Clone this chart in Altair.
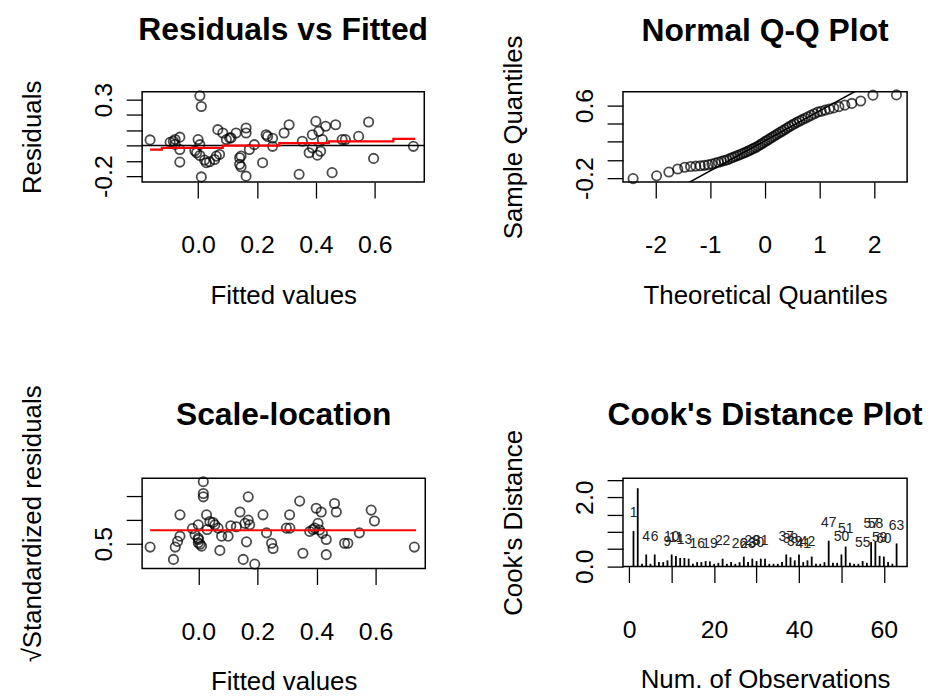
import altair as alt
import pandas as pd

FONT = "Liberation Sans"

# ---------------- Panel 1: Residuals vs Fitted ----------------
rf_fitted = [-0.163, -0.095, -0.084, -0.078, -0.062, -0.062, -0.062, -0.078, 0.006, 0.011,
             0.000, 0.006, -0.011, -0.005, 0.006, 0.022, 0.028, 0.039, 0.011, 0.056,
             0.062, 0.073, 0.067, 0.084, 0.096, 0.107, 0.129, 0.141, 0.146, 0.141,
             0.146, 0.163, 0.163, 0.163, 0.174, 0.191, 0.219, 0.231, 0.236, 0.253,
             0.253, 0.292, 0.309, 0.343, 0.354, 0.377, 0.388, 0.400, 0.410, 0.388,
             0.416, 0.422, 0.433, 0.455, 0.467, 0.489, 0.500, 0.545, 0.579, 0.596,
             0.731, 0.405, 0.112]
rf_resid = [0.037, 0.021, 0.028, 0.040, 0.055, -0.026, -0.108, 0.008, 0.325, 0.255,
            0.039, 0.006, -0.034, -0.047, -0.065, -0.095, -0.112, -0.106, -0.205, -0.091,
            -0.069, -0.058, 0.104, 0.082, 0.039, 0.050, 0.082, -0.080, -0.069, -0.123,
            -0.139, 0.115, 0.082, -0.200, -0.026, 0.006, -0.112, 0.071, 0.060, -0.005,
            0.048, 0.082, 0.136, -0.188, 0.028, -0.047, -0.015, 0.158, 0.093, 0.071,
            -0.037, 0.039, 0.126, -0.177, 0.136, 0.039, 0.039, 0.060, 0.154, -0.084,
            -0.005, -0.063, 0.050]
rf_zero_line = [0.0]
rf_smooth_x = [-0.163, -0.123, 0.084, 0.276, 0.444, 0.663, 0.737]
rf_smooth_y = [-0.026, -0.015, 0.000, 0.016, 0.027, 0.044, 0.044]
rf_x_ticks = [0.0, 0.2, 0.4, 0.6]
rf_y_ticks = [-0.2, -0.1, 0.0, 0.1, 0.2, 0.3]
rf_y_labelled = [0.3, -0.2]

# ---------------- Panel 2: Normal Q-Q ----------------
qq_theoretical = [-2.41, -1.98, -1.755, -1.593, -1.465, -1.357, -1.263, -1.180, -1.104, -1.033,
                  -0.967, -0.905, -0.847, -0.791, -0.738, -0.687, -0.637, -0.589, -0.543, -0.497,
                  -0.452, -0.409, -0.366, -0.324, -0.282, -0.241, -0.200, -0.160, -0.120, -0.080,
                  -0.040, 0.0, 0.040, 0.080, 0.120, 0.160, 0.200, 0.241, 0.282, 0.324,
                  0.366, 0.409, 0.452, 0.497, 0.543, 0.589, 0.637, 0.687, 0.738, 0.791,
                  0.847, 0.905, 0.967, 1.033, 1.104, 1.180, 1.263, 1.357, 1.465, 1.593,
                  1.755, 1.98, 2.41]
qq_sample = [-0.205, -0.175, -0.133, -0.099, -0.080, -0.072, -0.068, -0.064, -0.059, -0.053,
             -0.044, -0.034, -0.025, -0.015, -0.006, 0.003, 0.015, 0.027, 0.038, 0.049,
             0.060, 0.071, 0.082, 0.092, 0.105, 0.117, 0.129, 0.141, 0.155, 0.170,
             0.185, 0.200, 0.215, 0.230, 0.245, 0.260, 0.275, 0.290, 0.305, 0.320,
             0.336, 0.352, 0.368, 0.384, 0.400, 0.415, 0.430, 0.445, 0.460, 0.476,
             0.492, 0.510, 0.528, 0.538, 0.550, 0.562, 0.574, 0.588, 0.605, 0.624,
             0.650, 0.715, 0.718]
qq_line_x = [-2.6, 2.6]
qq_line_intercept = 0.21
qq_line_slope = 0.33
qq_x_ticks = [-2, -1, 0, 1, 2]
qq_y_ticks = [-0.2, 0.0, 0.2, 0.4, 0.6]
qq_y_labelled = [0.6, -0.2]

# ---------------- Panel 3: Scale-location ----------------
sl_fitted = [-0.163, -0.084, -0.078, -0.070, -0.062, -0.062, -0.011, 0.017, 0.017, 0.017,
             0.000, 0.000, 0.000, 0.006, 0.011, 0.028, 0.039, 0.050, 0.056, 0.067,
             0.073, 0.079, 0.101, 0.129, 0.141, 0.152, 0.163, 0.169, 0.169, 0.158,
             0.174, 0.191, 0.219, 0.231, 0.248, 0.253, 0.298, 0.309, 0.343, 0.354,
             0.377, 0.394, 0.399, 0.405, 0.410, 0.416, 0.433, 0.433, 0.461, 0.467,
             0.495, 0.506, 0.545, 0.585, 0.596, 0.731, 0.388, 0.420, 0.310, 0.030,
             0.110, -0.020, 0.000]
sl_value = [0.43, 0.17, 0.43, 0.55, 0.66, 1.11, 0.69, 1.81, 1.56, 1.49,
            0.90, 0.59, 0.52, 0.49, 0.45, 1.11, 0.97, 0.95, 0.90, 0.83,
            0.36, 0.66, 0.66, 0.86, 1.17, 0.17, 0.54, 1.49, 1.00, 0.93,
            0.90, 0.07, 1.11, 0.73, 0.51, 0.40, 0.83, 1.11, 1.40, 0.30,
            0.76, 0.83, 1.25, 0.93, 0.79, 1.17, 0.59, 0.27, 1.35, 1.17,
            0.51, 0.51, 0.73, 1.21, 0.98, 0.43, 0.80, 0.72, 0.83, 0.80,
            0.88, 0.82, 0.62]
sl_smooth_x = [-0.163, 0.737]
sl_smooth_y = [0.785, 0.785]
sl_x_ticks = [0.0, 0.2, 0.4, 0.6]
sl_y_ticks = [0.5, 1.0, 1.5]
sl_y_labelled = [0.5]

# ---------------- Panel 4: Cook's distance ----------------
cook_obs = list(range(1, 64))
cook_d = [1.02, 2.26, 0.07, 0.34, 0.07, 0.34, 0.12, 0.12, 0.17, 0.34,
          0.30, 0.24, 0.24, 0.22, 0.07, 0.12, 0.12, 0.15, 0.14, 0.07,
          0.10, 0.22, 0.07, 0.12, 0.07, 0.12, 0.28, 0.12, 0.22, 0.15,
          0.22, 0.22, 0.07, 0.07, 0.07, 0.12, 0.34, 0.26, 0.17, 0.34,
          0.12, 0.17, 0.28, 0.07, 0.07, 0.12, 0.74, 0.10, 0.10, 0.34,
          0.57, 0.10, 0.07, 0.07, 0.15, 0.10, 0.70, 0.70, 0.30, 0.28,
          0.12, 0.07, 0.66]
cook_labelled = [1, 2, 4, 6, 9, 10, 11, 13, 16, 19, 22, 26, 28, 29, 30, 31, 37, 38, 39,
                 41, 42, 47, 50, 51, 55, 57, 58, 59, 60, 63]
cook_x_ticks = [0, 10, 20, 30, 40, 50, 60]
cook_x_labelled = [0, 20, 40, 60]
cook_y_ticks = [0.0, 0.5, 1.0, 1.5, 2.0, 2.5]
cook_y_labelled = [0.0, 2.0]


def lab_expr(labelled, fmt):
    tests = " || ".join("abs(datum.value - (%r)) < 1e-9" % v for v in labelled)
    return "(%s) ? replace(format(datum.value, '%s'), '\u2212', '-') : ''" % (tests, fmt)


def make_axis(title, values, labelled, fmt, vertical):
    kw = dict(title=title, values=values, labelExpr=lab_expr(labelled, fmt), grid=False,
              domain=False, ticks=True, tickSize=16, tickWidth=1.3, tickColor="black",
              labelFont=FONT, labelFontSize=25, labelColor="black", labelFlush=False,
              labelOverlap=False, titleFont=FONT, titleFontSize=26, titleFontWeight="normal",
              titleColor="black")
    if vertical:
        kw.update(labelAngle=270, labelAlign="center", labelBaseline="bottom",
                  labelPadding=10, titlePadding=46)
    else:
        kw.update(labelPadding=35, titlePadding=25)
    return alt.Axis(**kw)


def title(text, offset):
    return alt.TitleParams(text, font=FONT, fontSize=32, fontWeight="bold", color="black",
                           anchor="middle", offset=offset)


POINT = dict(shape="circle", filled=False, size=88, color="black", strokeWidth=1.8)

# Panel 1
df1 = pd.DataFrame({"fitted": rf_fitted, "resid": rf_resid})
zero1 = pd.DataFrame({"resid": rf_zero_line})
sm1 = pd.DataFrame({"fitted": rf_smooth_x, "resid": rf_smooth_y})
x1 = alt.X("fitted:Q", scale=alt.Scale(domain=[-0.19, 0.768], nice=False, zero=False),
           axis=make_axis("Fitted values", rf_x_ticks, rf_x_ticks, ".1f", False))
y1 = alt.Y("resid:Q", scale=alt.Scale(domain=[-0.239, 0.352], nice=False, zero=False),
           axis=make_axis("Residuals", rf_y_ticks, rf_y_labelled, ".1f", True))
p1 = alt.layer(
    alt.Chart(df1).mark_point(**POINT).encode(x=x1, y=y1),
    alt.Chart(zero1).mark_rule(color="black", strokeWidth=1.5).encode(y=y1),
    alt.Chart(sm1).mark_line(color="#ff0000", strokeWidth=2.2, interpolate="step-after")
    .encode(x=x1, y=y1, order="fitted:Q"),
).properties(width=284, height=91, title=title("Residuals vs Fitted", 33))

# Panel 2
df2 = pd.DataFrame({"theo": qq_theoretical, "sample": qq_sample})
ln2 = pd.DataFrame({"theo": qq_line_x,
                    "sample": [qq_line_intercept + qq_line_slope * v for v in qq_line_x]})
x2 = alt.X("theo:Q", scale=alt.Scale(domain=[-2.595, 2.605], nice=False, zero=False),
           axis=make_axis("Theoretical Quantiles", qq_x_ticks, qq_x_ticks, "d", False))
y2 = alt.Y("sample:Q", scale=alt.Scale(domain=[-0.244, 0.753], nice=False, zero=False),
           axis=make_axis("Sample Quantiles", qq_y_ticks, qq_y_labelled, ".1f", True))
p2 = alt.layer(
    alt.Chart(ln2).mark_line(color="black", strokeWidth=1.5, clip=True).encode(x=x2, y=y2),
    alt.Chart(df2).mark_point(**POINT).encode(x=x2, y=y2),
).properties(width=286, height=91, title=title("Normal Q-Q Plot", -13))

# Panel 3
df3 = pd.DataFrame({"fitted": sl_fitted, "value": sl_value})
sm3 = pd.DataFrame({"fitted": sl_smooth_x, "value": sl_smooth_y})
x3 = alt.X("fitted:Q", scale=alt.Scale(domain=[-0.19, 0.768], nice=False, zero=False),
           axis=make_axis("Fitted values", sl_x_ticks, sl_x_ticks, ".1f", False))
y3 = alt.Y("value:Q", scale=alt.Scale(domain=[-0.024, 1.884], nice=False, zero=False),
           axis=make_axis("\u221aStandardized residuals", sl_y_ticks, sl_y_labelled, ".1f", True))
p3 = alt.layer(
    alt.Chart(df3).mark_point(**POINT).encode(x=x3, y=y3),
    alt.Chart(sm3).mark_line(color="#ff0000", strokeWidth=2.2).encode(x=x3, y=y3),
).properties(width=285, height=91, title=title("Scale-location", -47))

# Panel 4
df4 = pd.DataFrame({"obs": cook_obs, "cook": cook_d})
df4["label"] = [str(o) if o in cook_labelled else "" for o in cook_obs]
x4 = alt.X("obs:Q", scale=alt.Scale(domain=[-1.48, 65.48], nice=False, zero=False),
           axis=make_axis("Num. of Observations", cook_x_ticks, cook_x_labelled, "d", False))
y4 = alt.Y("cook:Q", scale=alt.Scale(domain=[-0.01, 2.55], nice=False, zero=False),
           axis=make_axis("Cook's Distance", cook_y_ticks, cook_y_labelled, ".1f", True))
p4 = alt.layer(
    alt.Chart(df4).mark_rule(color="black", strokeWidth=1.8).encode(x=x4, y=y4, y2=alt.datum(0)),
    alt.Chart(df4).transform_filter("datum.label != ''").mark_text(
        font=FONT, fontSize=14, color="#222222", dy=-18, baseline="middle", clip=True
    ).encode(x=x4, y=y4, text="label:N"),
).properties(width=286, height=89, title=title("Cook's Distance Plot", -2))

chart = alt.concat(
    p1, p2, p3, p4, columns=2, bounds="flush",
    spacing=alt.RowColnumber(row=298, column=199),
).properties(
    padding={"left": 11, "top": 3, "right": 0, "bottom": 0},
    background="white",
).configure_view(stroke="black", strokeWidth=1.5)

chart.save("out.html", embed_options={"renderer": "svg", "actions": False})
